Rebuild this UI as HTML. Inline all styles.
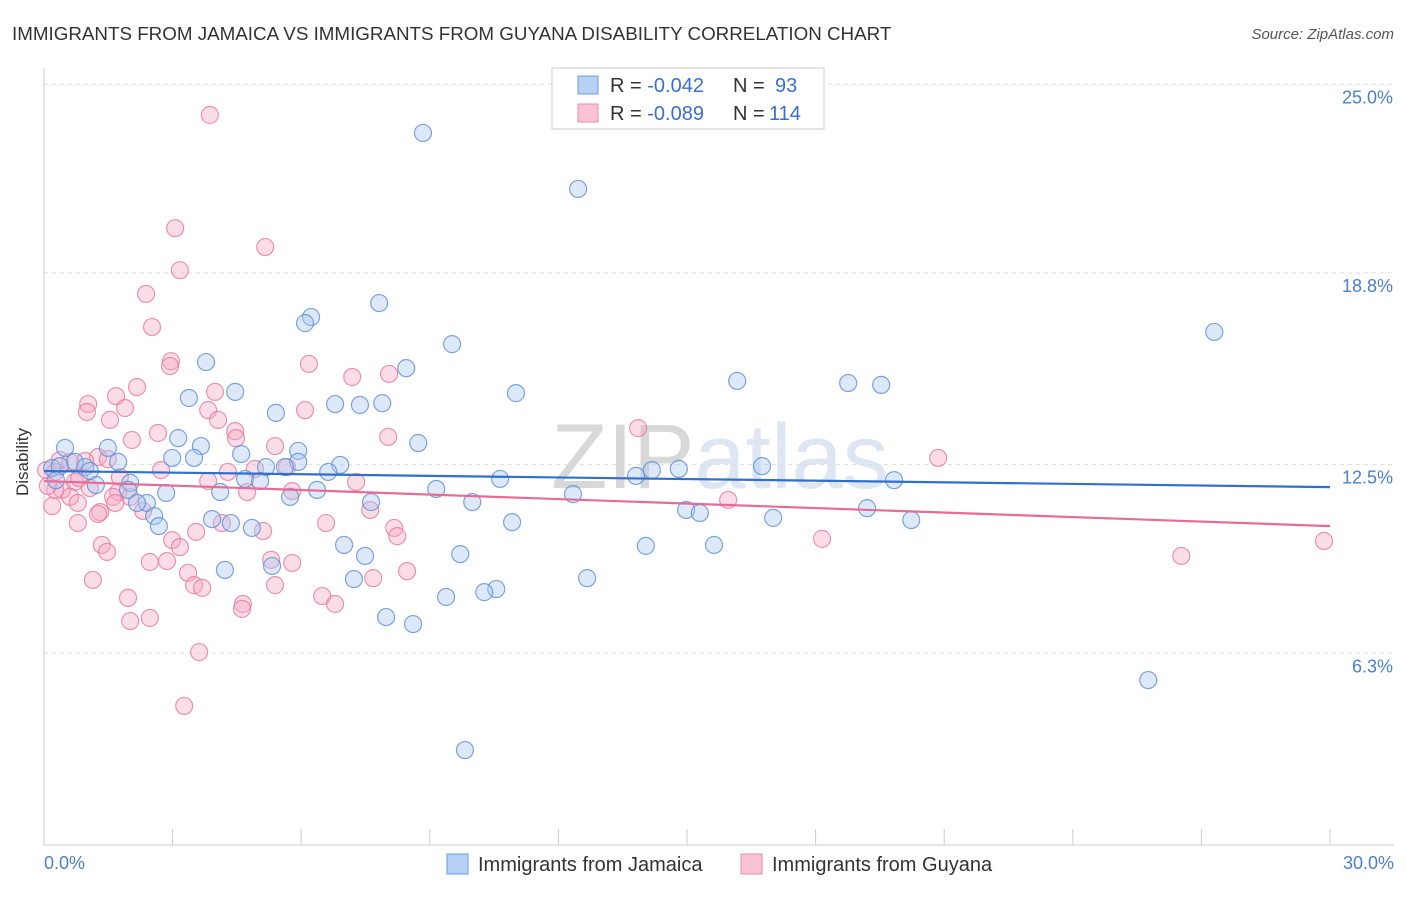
<!DOCTYPE html>
<html><head><meta charset="utf-8"><style>
body{margin:0;background:#fff;font-family:"Liberation Sans",sans-serif;}
svg text{font-family:"Liberation Sans",sans-serif;}
</style></head><body>
<svg id="chart" width="1406" height="892" viewBox="0 0 1406 892" xmlns="http://www.w3.org/2000/svg">
<text x="12" y="40" font-size="18.8" fill="#333">IMMIGRANTS FROM JAMAICA VS IMMIGRANTS FROM GUYANA DISABILITY CORRELATION CHART</text>
<text x="1394" y="39" font-size="15" fill="#555" font-style="italic" text-anchor="end">Source: ZipAtlas.com</text>
<text x="720" y="488" font-size="92" fill="#e4e4e4" text-anchor="middle" font-family="Liberation Serif"><tspan fill="#d8d8d8">ZIP</tspan><tspan fill="#dde6f2">atlas</tspan></text>
<g id="grid"></g>
<g id="axes"></g>
<g id="pink"></g>
<g id="blue"></g>
<g id="trends"></g>
<text x="22" y="456" font-size="17" fill="#333" text-anchor="middle" transform="rotate(-90 28 456)">Disability</text>
<text x="44" y="869" font-size="18" fill="#4a7fd4">0.0%</text>
<text x="1394" y="869" font-size="18" fill="#4a7fd4" text-anchor="end">30.0%</text>
<g>
<rect x="552" y="68" width="272" height="61" fill="#fff" stroke="#ccc"/>
<rect x="578" y="76" width="20" height="18" fill="#b6d0f3" stroke="#6b9bdc"/>
<rect x="578" y="104" width="20" height="18" fill="#f8c3d4" stroke="#ea8cab"/>
<text x="610" y="92" font-size="20" fill="#333">R = <tspan fill="#3a6fd0">-0.042</tspan></text>
<text x="733" y="92" font-size="20" fill="#333">N =</text>
<text x="775" y="92" font-size="20" fill="#3a6fd0">93</text>
<text x="610" y="120" font-size="20" fill="#333">R = <tspan fill="#3a6fd0">-0.089</tspan></text>
<text x="733" y="120" font-size="20" fill="#333">N =</text>
<text x="769" y="120" font-size="20" fill="#3a6fd0">114</text>
</g>
<g>
<rect x="447" y="854" width="21" height="20" fill="#b6d0f3" stroke="#6b9bdc"/>
<text x="478" y="871" font-size="20" fill="#333">Immigrants from Jamaica</text>
<rect x="741" y="854" width="21" height="20" fill="#f8c3d4" stroke="#ea8cab"/>
<text x="772" y="871" font-size="20" fill="#333">Immigrants from Guyana</text>
</g>
</svg>
<script>
const yTicks=[25.0,18.8,12.5,6.3];
const yTickLabels=["25.0%","18.8%","12.5%","6.3%"];
const xTicks=[0,3,6,9,12,15,18,21,24,27,30];
const blueX=[8.84,12.46,27.30,7.82,6.23,6.09,9.52,3.78,8.45,16.17,18.76,19.53,11.01,4.46,3.38,6.79,7.37,7.89,5.41,3.13,8.73,3.66,0.49,1.49,5.93,4.60,2.99,3.50,1.73,0.72,6.91,5.18,5.93,5.62,16.75,14.18,14.81,6.63,13.81,10.64,19.83,0.19,0.96,1.21,2.01,4.69,5.04,9.15,6.37,4.11,2.85,12.34,1.96,5.74,7.63,9.99,2.40,2.17,2.57,3.92,4.36,4.85,2.68,14.98,15.30,17.01,19.20,20.23,10.92,7.00,7.49,9.71,14.04,15.63,5.32,4.22,7.23,12.67,10.55,10.27,9.38,7.98,8.61,25.76,9.82,0.37,0.28,1.07];
const blueY=[23.40,21.56,16.86,17.81,17.35,17.15,16.46,15.87,15.67,15.25,15.18,15.12,14.85,14.89,14.69,14.49,14.46,14.52,14.20,13.37,13.21,13.11,13.05,13.05,12.95,12.85,12.72,12.72,12.59,12.59,12.49,12.42,12.59,12.42,12.45,12.32,12.36,12.26,12.13,12.03,11.99,12.39,12.42,11.83,11.90,12.03,11.96,11.70,11.67,11.60,11.57,11.53,11.67,11.44,11.27,11.27,11.24,11.24,10.81,10.71,10.58,10.42,10.48,11.01,10.91,10.75,11.07,10.68,10.61,9.86,9.50,9.56,9.83,9.86,9.17,9.04,8.74,8.77,8.41,8.31,8.15,7.49,7.26,5.42,3.12,12.45,11.99,12.29];
const pinkX=[3.87,3.06,5.16,3.17,2.38,2.52,2.96,2.94,6.18,7.19,8.05,2.17,3.99,1.68,1.03,1.89,6.09,3.83,1.00,1.54,4.06,4.46,2.66,4.48,2.05,8.03,5.39,20.86,1.26,1.49,0.96,2.73,0.37,0.61,0.05,0.26,4.29,4.92,5.67,7.28,3.83,1.77,0.72,1.07,1.73,1.61,2.01,4.74,5.79,0.42,0.61,0.26,0.09,0.79,0.19,1.66,1.31,1.26,2.31,7.61,15.96,6.58,0.79,4.15,8.17,3.55,2.99,5.11,8.24,3.17,1.35,18.15,29.86,1.47,2.47,2.87,5.79,5.30,26.53,1.14,3.36,7.68,8.47,3.50,3.69,5.39,6.49,1.96,6.79,4.64,4.62,2.47,2.01,3.62,3.27,13.86,0.82];
const pinkY=[23.99,20.27,19.65,18.89,18.11,17.02,15.90,15.74,15.81,15.38,15.48,15.05,14.89,14.75,14.49,14.36,14.29,14.29,14.23,13.97,13.97,13.60,13.54,13.37,13.31,13.41,13.11,12.72,12.75,12.68,12.62,12.32,12.65,12.59,12.32,12.26,12.26,12.36,12.42,11.93,11.96,12.09,11.93,11.73,11.60,11.44,11.44,11.60,11.63,11.67,11.44,11.67,11.80,11.24,11.14,11.24,10.94,10.88,10.98,11.01,11.34,10.58,10.58,10.58,10.42,10.29,10.02,10.32,10.15,9.79,9.86,10.06,9.99,9.63,9.30,9.33,9.27,9.37,9.50,8.71,8.94,8.77,9.00,8.54,8.45,8.54,8.18,8.12,7.92,7.92,7.76,7.46,7.36,6.34,4.57,13.70,12.06];
const blueTrend=[12.29,11.76];
const pinkTrend=[11.96,10.48];

const NS="http://www.w3.org/2000/svg";
const X0=44,X1=1330,Y0=845;
const sx=v=>X0+(v/30)*(X1-X0);
const sy=v=>Y0-v*30.43;
function mk(tag,attrs,parent){const e=document.createElementNS(NS,tag);for(const k in attrs)e.setAttribute(k,attrs[k]);document.getElementById(parent).appendChild(e);return e;}
yTicks.forEach((t,i)=>{
  const l=mk('line',{x1:X0,x2:1394,y1:sy(t),y2:sy(t),stroke:'#ddd','stroke-dasharray':'4,4'},'grid');
  
  
  const tx=mk('text',{x:1393,y:sy(t)+19,'font-size':18,fill:'#4a7fd4','text-anchor':'end'},'grid');
  tx.textContent=yTickLabels[i];
  
  
});
const ax=mk('line',{x1:X0,x2:X0,y1:68,y2:Y0,stroke:'#ccc'},'axes');


const bx=mk('line',{x1:X0,x2:1394,y1:Y0,y2:Y0,stroke:'#ccc'},'axes');


xTicks.forEach(t=>{
  const k=mk('line',{x1:sx(t),x2:sx(t),y1:829,y2:Y0,stroke:'#ccc'},'axes');
  
  
});
function dots(xs,ys,g,fill,stroke,name){
  xs.forEach((x,i)=>{
    const c=mk('circle',{cx:sx(x),cy:sy(ys[i]),r:8.5,fill:fill,'fill-opacity':0.4,stroke:stroke,'stroke-width':1.2,'stroke-opacity':0.8},g);
    
    
  });
}
dots(pinkX,pinkY,'pink','#f4a9c2','#e8799f','guyana-point');
dots(blueX,blueY,'blue','#a9c8f0','#5b8fd6','jamaica-point');
const bl=mk('line',{x1:sx(0),x2:sx(30),y1:sy(blueTrend[0]),y2:sy(blueTrend[1]),stroke:'#2f6fd0','stroke-width':2.2},'trends');


const pl=mk('line',{x1:sx(0),x2:sx(30),y1:sy(pinkTrend[0]),y2:sy(pinkTrend[1]),stroke:'#e86b97','stroke-width':2.2},'trends');


</script>
</body></html>
